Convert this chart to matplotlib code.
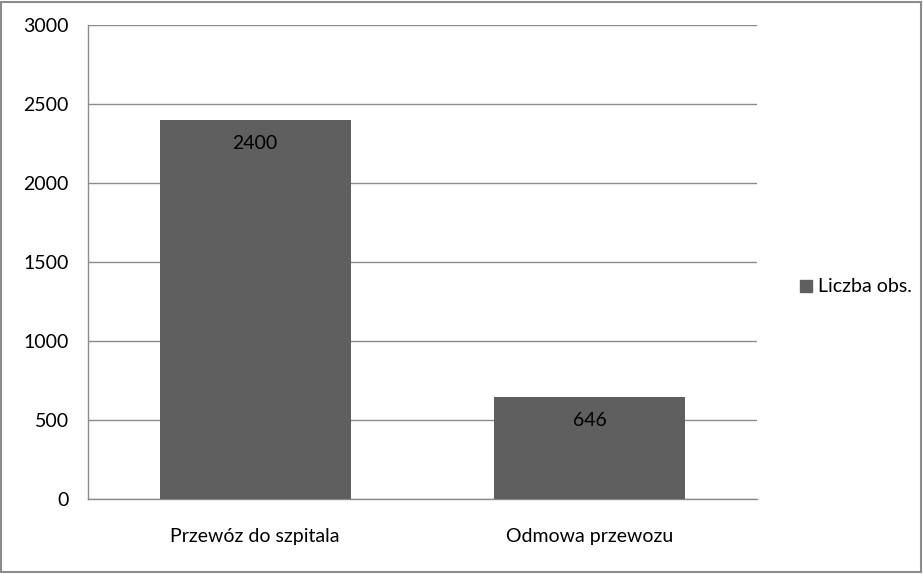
import matplotlib
matplotlib.use("Agg")
import matplotlib.pyplot as plt
from matplotlib.patches import Rectangle
from matplotlib.lines import Line2D

categories = ["Przewóz do szpitala", "Odmowa przewozu"]
values = [2400, 646]
series_name = "Liczba obs."
yticks = [0, 500, 1000, 1500, 2000, 2500, 3000]

plt.rcParams['font.family'] = ['Lato', 'DejaVu Sans']

W, H = 923, 574
fig = plt.figure(figsize=(W / 100, H / 100), dpi=100)
fig.patch.set_facecolor('white')

# figure border
fig.add_artist(Rectangle((1 / W, 2 / H), (W - 3) / W, (H - 4) / H, transform=fig.transFigure,
                         fill=False, edgecolor='#8c8c8c', linewidth=1.5))

left, right, top, bottom = 88, 757, 25, 499
ax = fig.add_axes([left / W, 1 - bottom / H, (right - left) / W, (bottom - top) / H])

bar_color = '#5f5f5f'
x = list(range(len(categories)))
bars = ax.bar(x, values, width=0.57, color=bar_color, zorder=3, label=series_name)
ax.set_xlim(-0.5, len(categories) - 0.5)
ax.set_ylim(0, 3000)
ax.set_yticks(yticks)
ax.set_yticklabels([str(t) for t in yticks], fontsize=14)
ax.set_xticks(x)
ax.set_xticklabels(categories, fontsize=14)
ax.tick_params(axis='both', length=0, colors='black')
ax.tick_params(axis='y', pad=14)
ax.tick_params(axis='x', pad=21)
ax.grid(axis='y', color='#8c8c8c', linewidth=1, zorder=0)
for s in ['top', 'right']:
    ax.spines[s].set_visible(False)
for s in ['left', 'bottom']:
    ax.spines[s].set_color('#8c8c8c')
    ax.spines[s].set_linewidth(1)

for b, v in zip(bars, values):
    ax.annotate(str(v), (b.get_x() + b.get_width() / 2, v), xytext=(0, -24),
                textcoords='offset pixels', ha='center', va='center', fontsize=14, zorder=4)

handle = Line2D([], [], marker='s', linestyle='none', markersize=8,
                markerfacecolor=bar_color, markeredgecolor=bar_color)
fig.legend([handle], [series_name], loc='center left',
           bbox_to_anchor=(787 / W, 1 - 287 / H), frameon=False, fontsize=14,
           handletextpad=0.1, borderpad=0, handlelength=1.0)

fig.savefig("out.png", dpi=100, facecolor='white')
